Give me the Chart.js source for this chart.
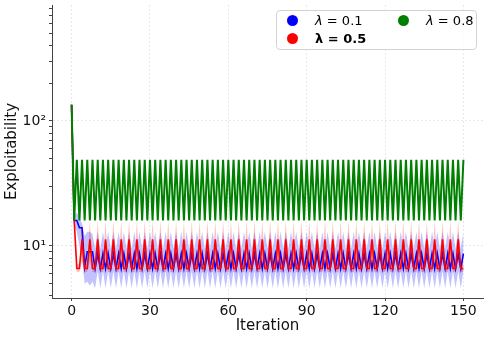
<!DOCTYPE html>
<html>
<head>
<meta charset="utf-8">
<script src="https://cdn.jsdelivr.net/npm/chart.js@4.4.1/dist/chart.umd.min.js"></script>
<style>
html,body{margin:0;padding:0;background:#fff;}
#wrap{position:relative;width:488px;height:339px;}
#legend{position:absolute;left:276px;top:10px;width:201px;height:40px;border:1px solid #d3d3d3;border-radius:4px;background:rgba(255,255,255,0.8);font-family:'DejaVu Sans',sans-serif;font-size:13px;color:#000;box-sizing:border-box;}
.dot{position:absolute;width:11px;height:11px;border-radius:50%;}
.txt{position:absolute;line-height:16px;white-space:nowrap;}
</style>
</head>
<body>
<div id="wrap">
<canvas id="c" width="488" height="339"></canvas>
<div id="legend">
  <div class="dot" style="left:10px;top:4px;background:#0000ff"></div>
  <div class="txt" style="left:38px;top:2px;"><i>λ</i> = 0.1</div>
  <div class="dot" style="left:10px;top:22px;background:#ff0000"></div>
  <div class="txt" style="left:38px;top:20px;font-weight:bold;">λ = 0.5</div>
  <div class="dot" style="left:121px;top:4px;background:#008000"></div>
  <div class="txt" style="left:149px;top:2px;"><i>λ</i> = 0.8</div>
</div>
</div>
<script>
const iterations = [
  0, 1, 2, 3, 4, 5, 6, 7, 8, 9, 10, 11, 12, 13, 14, 15, 16, 17, 18, 19,
  20, 21, 22, 23, 24, 25, 26, 27, 28, 29, 30, 31, 32, 33, 34, 35, 36, 37, 38, 39,
  40, 41, 42, 43, 44, 45, 46, 47, 48, 49, 50, 51, 52, 53, 54, 55, 56, 57, 58, 59,
  60, 61, 62, 63, 64, 65, 66, 67, 68, 69, 70, 71, 72, 73, 74, 75, 76, 77, 78, 79,
  80, 81, 82, 83, 84, 85, 86, 87, 88, 89, 90, 91, 92, 93, 94, 95, 96, 97, 98, 99,
  100, 101, 102, 103, 104, 105, 106, 107, 108, 109, 110, 111, 112, 113, 114, 115, 116, 117, 118, 119,
  120, 121, 122, 123, 124, 125, 126, 127, 128, 129, 130, 131, 132, 133, 134, 135, 136, 137, 138, 139,
  140, 141, 142, 143, 144, 145, 146, 147, 148, 149, 150
];

// lambda = 0.1 (blue): mean line and shaded band
const lambda01 = [
  135, 16, 16, 14, 14, 6.8, 9, 9, 9,
  6.6, 8.7, 6.6, 8.7, 6.6, 8.7, 6.6, 8.7, 6.6, 8.7, 6.6, 8.7, 6.6, 8.7, 6.6, 8.7, 6.6, 8.7, 6.6, 8.7,
  6.6, 8.7, 6.6, 8.7, 6.6, 8.7, 6.6, 8.7, 6.6, 8.7, 6.6, 8.7, 6.6, 8.7, 6.6, 8.7, 6.6, 8.7, 6.6, 8.7,
  6.6, 8.7, 6.6, 8.7, 6.6, 8.7, 6.6, 8.7, 6.6, 8.7, 6.6, 8.7, 6.6, 8.7, 6.6, 8.7, 6.6, 8.7, 6.6, 8.7,
  6.6, 8.7, 6.6, 8.7, 6.6, 8.7, 6.6, 8.7, 6.6, 8.7, 6.6, 8.7, 6.6, 8.7, 6.6, 8.7, 6.6, 8.7, 6.6, 8.7,
  6.6, 8.7, 6.6, 8.7, 6.6, 8.7, 6.6, 8.7, 6.6, 8.7, 6.6, 8.7, 6.6, 8.7, 6.6, 8.7, 6.6, 8.7, 6.6, 8.7,
  6.6, 8.7, 6.6, 8.7, 6.6, 8.7, 6.6, 8.7, 6.6, 8.7, 6.6, 8.7, 6.6, 8.7, 6.6, 8.7, 6.6, 8.7, 6.6, 8.7,
  6.6, 8.7, 6.6, 8.7, 6.6, 8.7, 6.6, 8.7, 6.6, 8.7, 6.6, 8.7, 6.6, 8.7, 6.6, 8.7, 6.6, 8.7, 6.6, 8.7,
  6.6, 8.7
];
const lambda01Upper = [
  150, 17.5, 18.5, 17, 15, 12, 13, 13, 12.5,
  9.5, 13, 9.5, 13, 9.5, 13, 9.5, 13, 9.5, 13, 9.5, 13, 9.5, 13, 9.5, 13, 9.5, 13, 9.5, 13,
  9.5, 13, 9.5, 13, 9.5, 13, 9.5, 13, 9.5, 13, 9.5, 13, 9.5, 13, 9.5, 13, 9.5, 13, 9.5, 13,
  9.5, 13, 9.5, 13, 9.5, 13, 9.5, 13, 9.5, 13, 9.5, 13, 9.5, 13, 9.5, 13, 9.5, 13, 9.5, 13,
  9.5, 13, 9.5, 13, 9.5, 13, 9.5, 13, 9.5, 13, 9.5, 13, 9.5, 13, 9.5, 13, 9.5, 13, 9.5, 13,
  9.5, 13, 9.5, 13, 9.5, 13, 9.5, 13, 9.5, 13, 9.5, 13, 9.5, 13, 9.5, 13, 9.5, 13, 9.5, 13,
  9.5, 13, 9.5, 13, 9.5, 13, 9.5, 13, 9.5, 13, 9.5, 13, 9.5, 13, 9.5, 13, 9.5, 13, 9.5, 13,
  9.5, 13, 9.5, 13, 9.5, 13, 9.5, 13, 9.5, 13, 9.5, 13, 9.5, 13, 9.5, 13, 9.5, 13, 9.5, 13,
  9.5, 13
];
const lambda01Lower = [
  120, 14.5, 13, 10, 8, 5, 5.2, 4.8, 5.2,
  4.6, 6.3, 4.6, 6.3, 4.6, 6.3, 4.6, 6.3, 4.6, 6.3, 4.6, 6.3, 4.6, 6.3, 4.6, 6.3, 4.6, 6.3, 4.6, 6.3,
  4.6, 6.3, 4.6, 6.3, 4.6, 6.3, 4.6, 6.3, 4.6, 6.3, 4.6, 6.3, 4.6, 6.3, 4.6, 6.3, 4.6, 6.3, 4.6, 6.3,
  4.6, 6.3, 4.6, 6.3, 4.6, 6.3, 4.6, 6.3, 4.6, 6.3, 4.6, 6.3, 4.6, 6.3, 4.6, 6.3, 4.6, 6.3, 4.6, 6.3,
  4.6, 6.3, 4.6, 6.3, 4.6, 6.3, 4.6, 6.3, 4.6, 6.3, 4.6, 6.3, 4.6, 6.3, 4.6, 6.3, 4.6, 6.3, 4.6, 6.3,
  4.6, 6.3, 4.6, 6.3, 4.6, 6.3, 4.6, 6.3, 4.6, 6.3, 4.6, 6.3, 4.6, 6.3, 4.6, 6.3, 4.6, 6.3, 4.6, 6.3,
  4.6, 6.3, 4.6, 6.3, 4.6, 6.3, 4.6, 6.3, 4.6, 6.3, 4.6, 6.3, 4.6, 6.3, 4.6, 6.3, 4.6, 6.3, 4.6, 6.3,
  4.6, 6.3, 4.6, 6.3, 4.6, 6.3, 4.6, 6.3, 4.6, 6.3, 4.6, 6.3, 4.6, 6.3, 4.6, 6.3, 4.6, 6.3, 4.6, 6.3,
  4.6, 6.3
];

// lambda = 0.5 (red): mean line and shaded band
const lambda05 = [
  135, 16, 6.6, 6.6,
  11.3, 6.6, 6.6, 11.3, 6.6, 6.6, 11.3, 6.6, 6.6, 11.3, 6.6, 6.6, 11.3, 6.6, 6.6, 11.3, 6.6, 6.6, 11.3, 6.6, 6.6,
  11.3, 6.6, 6.6, 11.3, 6.6, 6.6, 11.3, 6.6, 6.6, 11.3, 6.6, 6.6, 11.3, 6.6, 6.6, 11.3, 6.6, 6.6, 11.3, 6.6, 6.6,
  11.3, 6.6, 6.6, 11.3, 6.6, 6.6, 11.3, 6.6, 6.6, 11.3, 6.6, 6.6, 11.3, 6.6, 6.6, 11.3, 6.6, 6.6, 11.3, 6.6, 6.6,
  11.3, 6.6, 6.6, 11.3, 6.6, 6.6, 11.3, 6.6, 6.6, 11.3, 6.6, 6.6, 11.3, 6.6, 6.6, 11.3, 6.6, 6.6, 11.3, 6.6, 6.6,
  11.3, 6.6, 6.6, 11.3, 6.6, 6.6, 11.3, 6.6, 6.6, 11.3, 6.6, 6.6, 11.3, 6.6, 6.6, 11.3, 6.6, 6.6, 11.3, 6.6, 6.6,
  11.3, 6.6, 6.6, 11.3, 6.6, 6.6, 11.3, 6.6, 6.6, 11.3, 6.6, 6.6, 11.3, 6.6, 6.6, 11.3, 6.6, 6.6, 11.3, 6.6, 6.6,
  11.3, 6.6, 6.6, 11.3, 6.6, 6.6, 11.3, 6.6, 6.6, 11.3, 6.6, 6.6, 11.3, 6.6, 6.6, 11.3, 6.6, 6.6, 11.3, 6.6, 6.6
];
const lambda05Upper = [
  150, 17.5, 7.2, 7.2,
  16, 7.2, 7.2, 16, 7.2, 7.2, 16, 7.2, 7.2, 16, 7.2, 7.2, 16, 7.2, 7.2, 16, 7.2, 7.2, 16, 7.2, 7.2,
  16, 7.2, 7.2, 16, 7.2, 7.2, 16, 7.2, 7.2, 16, 7.2, 7.2, 16, 7.2, 7.2, 16, 7.2, 7.2, 16, 7.2, 7.2,
  16, 7.2, 7.2, 16, 7.2, 7.2, 16, 7.2, 7.2, 16, 7.2, 7.2, 16, 7.2, 7.2, 16, 7.2, 7.2, 16, 7.2, 7.2,
  16, 7.2, 7.2, 16, 7.2, 7.2, 16, 7.2, 7.2, 16, 7.2, 7.2, 16, 7.2, 7.2, 16, 7.2, 7.2, 16, 7.2, 7.2,
  16, 7.2, 7.2, 16, 7.2, 7.2, 16, 7.2, 7.2, 16, 7.2, 7.2, 16, 7.2, 7.2, 16, 7.2, 7.2, 16, 7.2, 7.2,
  16, 7.2, 7.2, 16, 7.2, 7.2, 16, 7.2, 7.2, 16, 7.2, 7.2, 16, 7.2, 7.2, 16, 7.2, 7.2, 16, 7.2, 7.2,
  16, 7.2, 7.2, 16, 7.2, 7.2, 16, 7.2, 7.2, 16, 7.2, 7.2, 16, 7.2, 7.2, 16, 7.2, 7.2, 16, 7.2, 7.2
];
const lambda05Lower = [
  120, 14.5, 6.2, 6.2,
  7.6, 6.2, 6.2, 7.6, 6.2, 6.2, 7.6, 6.2, 6.2, 7.6, 6.2, 6.2, 7.6, 6.2, 6.2, 7.6, 6.2, 6.2, 7.6, 6.2, 6.2,
  7.6, 6.2, 6.2, 7.6, 6.2, 6.2, 7.6, 6.2, 6.2, 7.6, 6.2, 6.2, 7.6, 6.2, 6.2, 7.6, 6.2, 6.2, 7.6, 6.2, 6.2,
  7.6, 6.2, 6.2, 7.6, 6.2, 6.2, 7.6, 6.2, 6.2, 7.6, 6.2, 6.2, 7.6, 6.2, 6.2, 7.6, 6.2, 6.2, 7.6, 6.2, 6.2,
  7.6, 6.2, 6.2, 7.6, 6.2, 6.2, 7.6, 6.2, 6.2, 7.6, 6.2, 6.2, 7.6, 6.2, 6.2, 7.6, 6.2, 6.2, 7.6, 6.2, 6.2,
  7.6, 6.2, 6.2, 7.6, 6.2, 6.2, 7.6, 6.2, 6.2, 7.6, 6.2, 6.2, 7.6, 6.2, 6.2, 7.6, 6.2, 6.2, 7.6, 6.2, 6.2,
  7.6, 6.2, 6.2, 7.6, 6.2, 6.2, 7.6, 6.2, 6.2, 7.6, 6.2, 6.2, 7.6, 6.2, 6.2, 7.6, 6.2, 6.2, 7.6, 6.2, 6.2,
  7.6, 6.2, 6.2, 7.6, 6.2, 6.2, 7.6, 6.2, 6.2, 7.6, 6.2, 6.2, 7.6, 6.2, 6.2, 7.6, 6.2, 6.2, 7.6, 6.2, 6.2
];

// lambda = 0.8 (green)
const lambda08 = [
  135,
  16, 49, 16, 49, 16, 49, 16, 49, 16, 49, 16, 49, 16, 49, 16, 49, 16, 49, 16, 49,
  16, 49, 16, 49, 16, 49, 16, 49, 16, 49, 16, 49, 16, 49, 16, 49, 16, 49, 16, 49,
  16, 49, 16, 49, 16, 49, 16, 49, 16, 49, 16, 49, 16, 49, 16, 49, 16, 49, 16, 49,
  16, 49, 16, 49, 16, 49, 16, 49, 16, 49, 16, 49, 16, 49, 16, 49, 16, 49, 16, 49,
  16, 49, 16, 49, 16, 49, 16, 49, 16, 49, 16, 49, 16, 49, 16, 49, 16, 49, 16, 49,
  16, 49, 16, 49, 16, 49, 16, 49, 16, 49, 16, 49, 16, 49, 16, 49, 16, 49, 16, 49,
  16, 49, 16, 49, 16, 49, 16, 49, 16, 49, 16, 49, 16, 49, 16, 49, 16, 49, 16, 49,
  16, 49, 16, 49, 16, 49, 16, 49, 16, 49
];

const xTicks = [0, 30, 60, 90, 120, 150];
const yTicks = [4, 5, 6, 7, 8, 9, 10, 20, 30, 40, 50, 60, 70, 80, 90, 100, 200, 300, 400, 500, 600, 700, 800];
const yTickLabels = { 10: '10¹', 100: '10²' };

const pts = arr => iterations.map((x, i) => ({ x: x, y: arr[i] }));
const FONT = 'DejaVu Sans';

const band = (arr, color, fill, order) => ({
  data: pts(arr), borderWidth: 0, borderColor: 'rgba(0,0,0,0)', backgroundColor: color,
  pointRadius: 0, fill: fill, order: order, tension: 0
});
const line = (arr, color, width, order) => ({
  data: pts(arr), borderColor: color, borderWidth: width, pointRadius: 0,
  fill: false, order: order, tension: 0
});

new Chart(document.getElementById('c'), {
  type: 'line',
  data: {
    datasets: [
      band(lambda01Upper, 'rgba(0,0,255,0.24)', '+1', 6),
      band(lambda01Lower, 'rgba(0,0,255,0.24)', false, 6),
      line(lambda01, '#0000ff', 1.6, 5),
      band(lambda05Upper, 'rgba(255,0,0,0.24)', '+1', 4),
      band(lambda05Lower, 'rgba(255,0,0,0.24)', false, 4),
      line(lambda05, '#ff0000', 1.6, 3),
      line(lambda08, '#008000', 2, 1)
    ]
  },
  options: {
    responsive: false,
    animation: false,
    devicePixelRatio: 1,
    layout: { padding: { top: 5, right: 5, left: 0, bottom: 0 } },
    plugins: { legend: { display: false }, tooltip: { enabled: false } },
    scales: {
      x: {
        type: 'linear', min: -7.5, max: 157.5,
        afterBuildTicks: s => { s.ticks = xTicks.map(v => ({ value: v })); },
        afterFit: s => { s.height = 41; s.paddingLeft = 0; s.paddingRight = 0; },
        grid: { color: '#e9e9e9', lineWidth: 1, tickLength: 3, tickColor: '#444' },
        border: { display: true, color: '#444', width: 1, dash: [2, 2] },
        ticks: { autoSkip: false, maxRotation: 0, padding: 2, color: '#111', font: { family: FONT, size: 14 } },
        title: { display: true, text: 'Iteration', color: '#111', font: { family: FONT, size: 15 }, padding: { top: 0, bottom: 4 } }
      },
      y: {
        type: 'logarithmic', min: 3.837, max: 847,
        afterBuildTicks: s => { s.ticks = yTicks.map(v => ({ value: v })); },
        afterFit: s => { s.width = 52; s.paddingTop = 0; s.paddingBottom = 0; },
        grid: {
          color: c => (c.tick && yTickLabels[c.tick.value]) ? '#e9e9e9' : 'rgba(0,0,0,0)',
          lineWidth: 1, tickLength: 3, tickColor: '#444'
        },
        border: { display: true, color: '#444', width: 1, dash: [2, 2] },
        ticks: {
          autoSkip: false, padding: 3, color: '#111', font: { family: FONT, size: 14 },
          callback: v => yTickLabels[v] || ''
        },
        title: { display: true, text: 'Exploitability', color: '#111', font: { family: FONT, size: 15 }, padding: { top: 3, bottom: 0 } }
      }
    }
  }
});
</script>
</body>
</html>
